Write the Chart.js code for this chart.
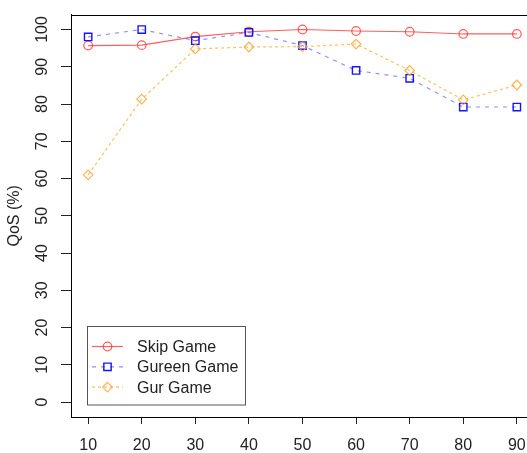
<!DOCTYPE html>
<html>
<head>
<meta charset="utf-8">
<style>
  html, body { margin: 0; padding: 0; background: #fff; overflow: hidden; }
  #wrap { position: absolute; left: 0; top: 0; width: 545px; height: 453px; }
</style>
<script src="https://cdn.jsdelivr.net/npm/chart.js@4.4.0/dist/chart.umd.min.js"></script>
</head>
<body>
<div id="wrap"><canvas id="qos" width="545" height="453"></canvas></div>
<script>
// Number of players on the x axis
const xValues = [10, 20, 30, 40, 50, 60, 70, 80, 90];
// QoS (%) for each game variant
const skipGame   = [95.7, 95.8, 98.1, 99.4, 100.0, 99.6, 99.4, 98.8, 98.8];
const gureenGame = [98.0, 100.0, 97.0, 99.2, 95.7, 89.0, 86.9, 79.2, 79.2];
const gurGame    = [61.0, 81.3, 94.8, 95.3, 95.4, 96.1, 89.0, 81.1, 85.1];
// Tick values
const xTicks = [10, 20, 30, 40, 50, 60, 70, 80, 90];
const yTicks = [0, 10, 20, 30, 40, 50, 60, 70, 80, 90, 100];
const seriesNames = ['Skip Game', 'Gureen Game', 'Gur Game'];

const FONT = 'Liberation Sans, Arial, Helvetica, sans-serif';
const toPoints = ys => xValues.map((x, i) => ({ x, y: ys[i] }));

// Full box around the plotting region
const plotFrame = {
  id: 'plotFrame',
  afterDatasetsDraw(chart) {
    const { ctx, chartArea: a } = chart;
    ctx.save();
    ctx.strokeStyle = '#000';
    ctx.lineWidth = 1;
    ctx.strokeRect(Math.round(a.left) + 0.5, Math.round(a.top) + 0.5,
                   Math.round(a.right - a.left), Math.round(a.bottom - a.top));
    ctx.restore();
  }
};

function drawMarker(ctx, style, x, y, r) {
  ctx.beginPath();
  if (style === 'circle') {
    ctx.arc(x, y, r, 0, Math.PI * 2);
  } else if (style === 'rect') {
    const s = r * Math.SQRT1_2;
    ctx.rect(x - s, y - s, 2 * s, 2 * s);
  } else if (style === 'rectRot') {
    ctx.moveTo(x, y - r); ctx.lineTo(x + r, y); ctx.lineTo(x, y + r); ctx.lineTo(x - r, y); ctx.closePath();
  }
  ctx.stroke();
}

// Legend boxed inside the lower-left of the plot
const insetLegend = {
  id: 'insetLegend',
  afterDraw(chart) {
    const { ctx } = chart;
    const box = { x: 87.5, y: 326.5, w: 158, h: 78.5 };
    ctx.save();
    ctx.fillStyle = '#fff';
    ctx.fillRect(box.x, box.y, box.w, box.h);
    ctx.strokeStyle = '#555';
    ctx.lineWidth = 1;
    ctx.strokeRect(box.x, box.y, box.w, box.h);
    ctx.font = '16px ' + FONT;
    ctx.textBaseline = 'middle';
    ctx.textAlign = 'left';
    chart.data.datasets.forEach((ds, i) => {
      const y = 346.5 + i * 20.3;
      ctx.strokeStyle = ds.borderColor;
      ctx.lineWidth = ds.borderWidth;
      ctx.setLineDash(ds.borderDash || []);
      ctx.beginPath();
      ctx.moveTo(92, y); ctx.lineTo(123, y);
      ctx.stroke();
      ctx.setLineDash([]);
      ctx.strokeStyle = ds.pointBorderColor;
      ctx.lineWidth = ds.pointBorderWidth;
      drawMarker(ctx, ds.pointStyle, 107.5, y, ds.pointRadius);
      ctx.fillStyle = '#222';
      ctx.fillText(ds.label, 137, y + 1);
    });
    ctx.restore();
  }
};

new Chart(document.getElementById('qos'), {
  type: 'line',
  data: {
    datasets: [
      {
        label: seriesNames[0], data: toPoints(skipGame), order: 3,
        borderColor: 'rgba(255,40,40,0.75)', borderWidth: 1.2,
        pointStyle: 'circle', pointRadius: 4.3, pointBorderWidth: 1.2,
        pointBorderColor: 'rgba(255,50,50,0.8)', pointBackgroundColor: 'rgba(0,0,0,0)'
      },
      {
        label: seriesNames[1], data: toPoints(gureenGame), order: 2,
        borderColor: 'rgba(70,70,255,0.6)', borderWidth: 1.2, borderDash: [4, 5],
        pointStyle: 'rect', pointRadius: 5.2, pointBorderWidth: 1.4,
        pointBorderColor: 'rgba(20,20,255,1)', pointBackgroundColor: 'rgba(0,0,0,0)'
      },
      {
        label: seriesNames[2], data: toPoints(gurGame), order: 1,
        borderColor: 'rgba(255,165,30,0.7)', borderWidth: 1.2, borderDash: [3, 3],
        pointStyle: 'rectRot', pointRadius: 4.8, pointBorderWidth: 1.2,
        pointBorderColor: 'rgba(255,160,40,0.8)', pointBackgroundColor: 'rgba(0,0,0,0)'
      }
    ]
  },
  options: {
    responsive: false,
    animation: false,
    devicePixelRatio: 1,
    layout: { padding: { top: 12, right: 11, left: 0, bottom: 0 } },
    elements: { line: { tension: 0 } },
    plugins: { legend: { display: false }, tooltip: { enabled: false } },
    scales: {
      x: {
        type: 'linear', min: 6.8, max: 93.2,
        afterBuildTicks: s => { s.ticks = xTicks.map(v => ({ value: v })); },
        afterFit: s => { s.height = 36; },
        grid: { drawOnChartArea: false, drawTicks: true, tickLength: 7, color: '#222' },
        border: { display: true, color: '#000', width: 1 },
        ticks: { color: '#222', font: { family: FONT, size: 16 }, padding: 12, maxRotation: 0, autoSkip: false }
      },
      y: {
        type: 'linear', min: -4, max: 104,
        afterBuildTicks: s => { s.ticks = yTicks.map(v => ({ value: v })); },
        afterFit: s => { s.width = 71; },
        grid: { drawOnChartArea: false, drawTicks: true, tickLength: 10, color: '#222' },
        border: { display: true, color: '#000', width: 1 },
        ticks: { color: '#222', font: { family: FONT, size: 16 }, padding: 5,
                 minRotation: 90, maxRotation: 90, crossAlign: 'center', autoSkip: false },
        title: { display: true, text: 'QoS (%)', color: '#222',
                 font: { family: FONT, size: 16 }, padding: { top: 5, bottom: 0 } }
      }
    }
  },
  plugins: [plotFrame, insetLegend]
});
</script>
</body>
</html>
